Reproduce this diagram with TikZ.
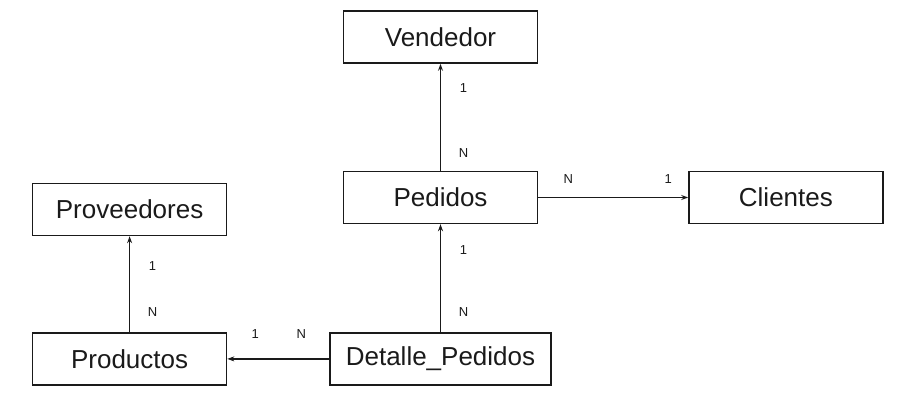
\documentclass[tikz,border=0pt]{standalone}
\usepackage{fontspec}
\setmainfont{Liberation Sans}
\usepackage{xcolor}
\definecolor{ink}{HTML}{1A1A1A}
\usetikzlibrary{positioning,arrows.meta}

\begin{document}
\begin{tikzpicture}[
  x=1pt,y=1pt,
  entity/.style={draw=ink,line width=1.4pt,text=ink,inner sep=0pt,
                 font=\fontsize{26}{30}\selectfont,
                 minimum width=194pt,minimum height=52pt},
  card/.style={text=ink,inner sep=0pt,font=\fontsize{13}{15}\selectfont},
  link/.style={draw=ink,line width=1.2pt,-{Stealth[length=7pt,width=5pt]}}
]
  \useasboundingbox (0,0) rectangle (914,400);
  % entities
  \node[entity] (pedidos) at (440.5,202.5) {Pedidos};
  \node[entity,above=107pt of pedidos] (vendedor) {Vendedor};
  \node[entity,right=150pt of pedidos] (clientes) {Clientes};
  \node[entity,below=108pt of pedidos,minimum width=221pt] (detalle) {Detalle\_Pedidos};
  \node[entity,left=102pt of detalle] (productos) {Productos};
  \node[entity,above=96pt of productos] (proveedores) {Proveedores};
  % relations
  \draw[link] (pedidos) -- node[card,pos=0.17,xshift=23pt] {N}
                           node[card,pos=0.77,xshift=23pt] {1} (vendedor);
  \draw[link] (pedidos) -- node[card,pos=0.2,yshift=18pt] {N}
                           node[card,pos=0.867,yshift=18pt] {1} (clientes);
  \draw[link] (detalle) -- node[card,pos=0.19,xshift=23pt] {N}
                           node[card,pos=0.76,xshift=23pt] {1} (pedidos);
  \draw[link] (productos) -- node[card,pos=0.21,xshift=23pt] {N}
                             node[card,pos=0.69,xshift=23pt] {1} (proveedores);
  \draw[link] (detalle) -- node[card,pos=0.275,yshift=25pt] {N}
                           node[card,pos=0.725,yshift=25pt] {1} (productos);
\end{tikzpicture}
\end{document}
